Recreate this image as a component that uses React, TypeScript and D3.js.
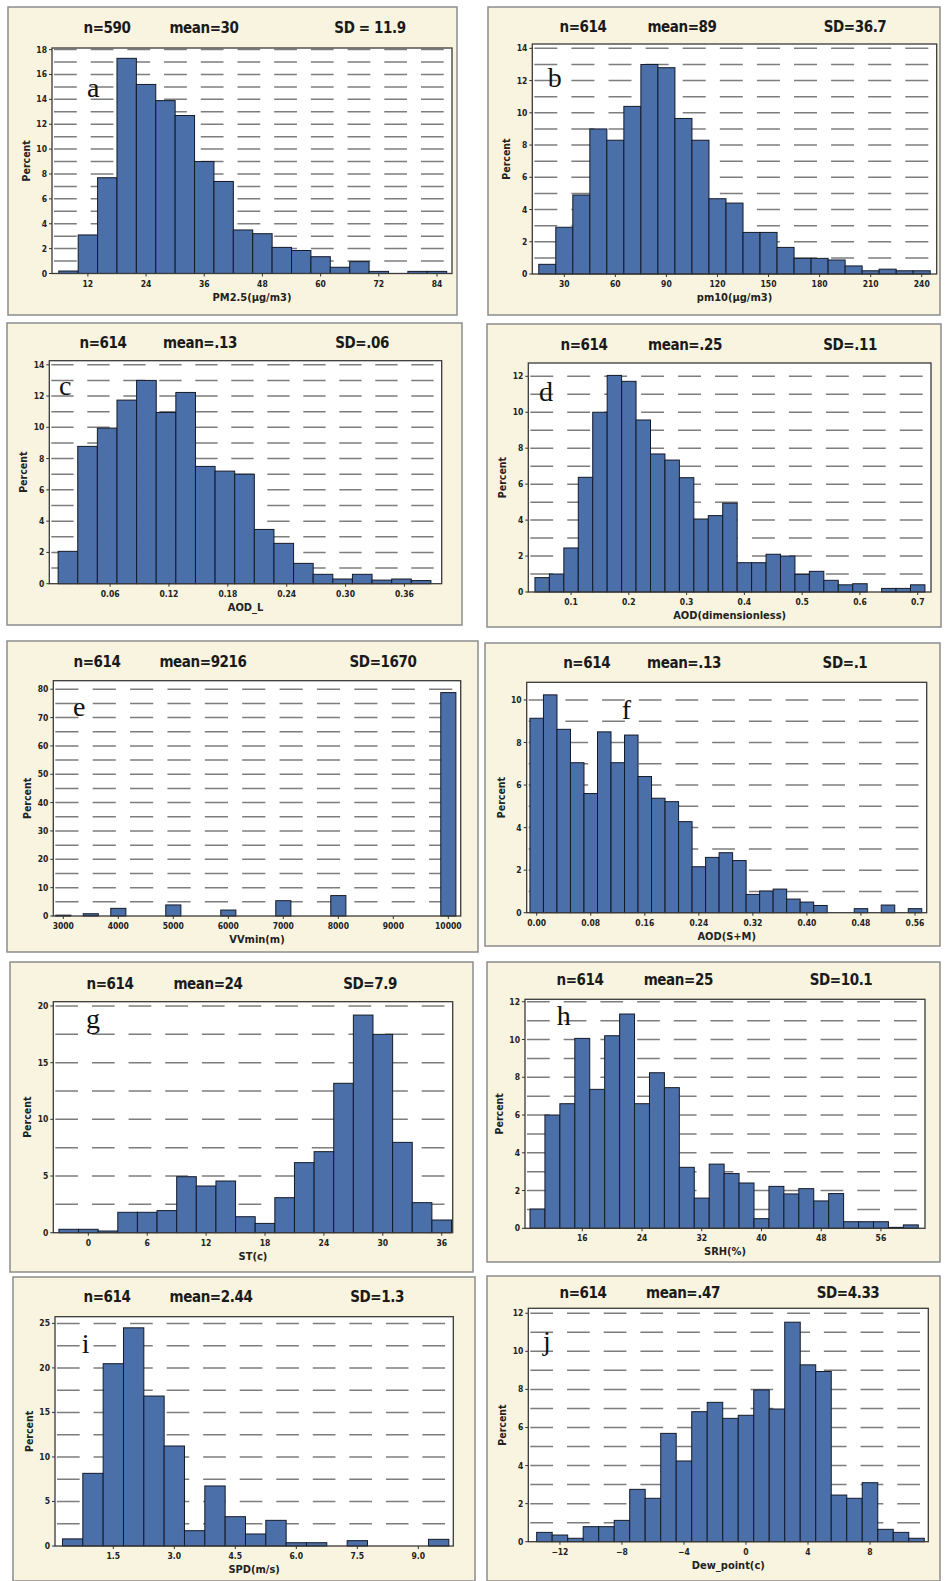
import React from "react";
import * as d3 from "d3";

// ---------- data: percent per histogram bin ----------
const pm25Values = [0.2, 3.1, 7.7, 17.3, 15.2, 13.9, 12.7, 9.0, 7.4, 3.5, 3.2, 2.1, 1.85, 1.35, 0.5, 0.95, 0.17, 0, 0.17, 0.17];
const pm25XTicks = [12, 24, 36, 48, 60, 72, 84];
const pm25YTicks = [0, 2, 4, 6, 8, 10, 12, 14, 16, 18];

const pm10Values = [0.6, 2.9, 4.9, 9.0, 8.3, 10.4, 13.0, 12.8, 9.65, 8.3, 4.67, 4.4, 2.58, 2.58, 1.65, 0.97, 0.97, 0.87, 0.5, 0.2, 0.3, 0.2, 0.2];
const pm10XTicks = [30, 60, 90, 120, 150, 180, 210, 240];
const pm10YTicks = [0, 2, 4, 6, 8, 10, 12, 14];

const aodLValues = [2.07, 8.78, 9.95, 11.74, 13.0, 10.95, 12.23, 7.5, 7.2, 7.0, 3.47, 2.58, 1.3, 0.6, 0.3, 0.6, 0.23, 0.3, 0.2];
const aodLXTicks = [0.06, 0.12, 0.18, 0.24, 0.3, 0.36];
const aodLYTicks = [0, 2, 4, 6, 8, 10, 12, 14];

const aodValues = [0.8, 1.0, 2.45, 6.38, 10.0, 12.05, 11.72, 9.57, 7.68, 7.34, 6.36, 4.06, 4.25, 4.94, 1.63, 1.63, 2.1, 2.0, 0.98, 1.15, 0.65, 0.4, 0.46, 0, 0.2, 0.2, 0.4];
const aodXTicks = [0.1, 0.2, 0.3, 0.4, 0.5, 0.6, 0.7];
const aodYTicks = [0, 2, 4, 6, 8, 10, 12];

const vvCenters = [3000, 3500, 4000, 5000, 6000, 7000, 8000, 10000];
const vvValues = [0.3, 0.8, 2.7, 3.9, 2.1, 5.4, 7.2, 78.8];
const vvXTicks = [3000, 4000, 5000, 6000, 7000, 8000, 9000, 10000];
const vvYTicks = [0, 10, 20, 30, 40, 50, 60, 70, 80];

const aodSMValues = [9.14, 10.24, 8.62, 7.05, 5.6, 8.5, 7.05, 8.35, 6.4, 5.38, 5.22, 4.28, 2.16, 2.6, 2.82, 2.45, 0.86, 1.02, 1.11, 0.64, 0.5, 0.34, 0, 0, 0.19, 0, 0.36, 0, 0.19];
const aodSMXTicks = [0, 0.08, 0.16, 0.24, 0.32, 0.4, 0.48, 0.56];
const aodSMYTicks = [0, 2, 4, 6, 8, 10];

const stValues = [0.3, 0.3, 0.15, 1.8, 1.8, 1.95, 4.94, 4.12, 4.56, 1.41, 0.82, 3.09, 6.18, 7.15, 13.18, 19.2, 17.5, 7.97, 2.65, 1.12];
const stXTicks = [0, 6, 12, 18, 24, 30, 36];
const stYTicks = [0, 5, 10, 15, 20];

const srhValues = [1.02, 6.0, 6.6, 10.06, 7.36, 10.2, 11.35, 6.6, 8.24, 7.45, 3.23, 1.6, 3.4, 2.9, 2.4, 0.51, 2.22, 1.82, 2.1, 1.45, 1.84, 0.35, 0.35, 0.35, 0.05, 0.18];
const srhXTicks = [16, 24, 32, 40, 48, 56];
const srhYTicks = [0, 2, 4, 6, 8, 10, 12];

const spdValues = [0.8, 8.16, 20.47, 24.5, 16.84, 11.23, 1.72, 6.74, 3.29, 1.35, 2.88, 0.37, 0.37, 0, 0.6, 0, 0, 0, 0.75];
const spdXTicks = [1.5, 3.0, 4.5, 6.0, 7.5, 9.0];
const spdYTicks = [0, 5, 10, 15, 20, 25];

const dewValues = [0.49, 0.35, 0.18, 0.79, 0.79, 1.12, 2.75, 2.28, 5.69, 4.24, 6.83, 7.32, 6.48, 6.64, 7.97, 6.97, 11.53, 9.29, 8.94, 2.45, 2.28, 3.1, 0.65, 0.49, 0.18];
const dewXTicks = [-12, -8, -4, 0, 4, 8];
const dewYTicks = [0, 2, 4, 6, 8, 10, 12];

// summary text over each panel
const statsA = ["n=590", "mean=30", "SD = 11.9"];
const statsB = ["n=614", "mean=89", "SD=36.7"];
const statsC = ["n=614", "mean=.13", "SD=.06"];
const statsD = ["n=614", "mean=.25", "SD=.11"];
const statsE = ["n=614", "mean=9216", "SD=1670"];
const statsF = ["n=614", "mean=.13", "SD=.1"];
const statsG = ["n=614", "mean=24", "SD=7.9"];
const statsH = ["n=614", "mean=25", "SD=10.1"];
const statsI = ["n=614", "mean=2.44", "SD=1.3"];
const statsJ = ["n=614", "mean=.47", "SD=4.33"];

// ---------- helpers ----------
const equalBins = (start: number, width: number, n: number) =>
  d3.range(n).map(i => [start + i * width, start + (i + 1) * width]);
const centeredBins = (centers: number[], width: number) =>
  centers.map(c => [c - width / 2, c + width / 2]);

const FONT = "'Liberation Sans Narrow', 'DejaVu Sans Condensed', 'Arial Narrow', sans-serif";
const SERIF = "'Liberation Serif', 'DejaVu Serif', serif";
const BAR = "#4b6fa8";
const CREAM = "#f9f4df";

// layout of each panel: frame box, plot box [l, t, r, b], axis domains
const panels = [
  { id: "a", frame: [8, 7, 457, 315], plot: [52, 48, 452, 273.5], xDomain: [4.6, 87.1], yTop: 18.13, grid: 1,
    bins: equalBins(6, 4, pm25Values.length), values: pm25Values, xTicks: pm25XTicks, yTicks: pm25YTicks, fmt: d3.format("d"),
    stats: statsA, statsX: [107, 204, 370], statsY: 33, letter: [87, 97], xLabel: "PM2.5(µg/m3)" },
  { id: "b", frame: [488, 7, 940, 315], plot: [532.3, 44, 936.7, 274], xDomain: [11.2, 248.8], yTop: 14.27, grid: 1,
    bins: equalBins(15, 10, pm10Values.length), values: pm10Values, xTicks: pm10XTicks, yTicks: pm10YTicks, fmt: d3.format("d"),
    stats: statsB, statsX: [583, 682, 855], statsY: 32, letter: [547.7, 87], xLabel: "pm10(µg/m3)" },
  { id: "c", frame: [7, 323, 462, 625], plot: [49.3, 360.7, 441.7, 583.7], xDomain: [-0.002, 0.398], yTop: 14.26, grid: 1,
    bins: equalBins(0.007, 0.02, aodLValues.length), values: aodLValues, xTicks: aodLXTicks, yTicks: aodLYTicks, fmt: d3.format(".2f"),
    stats: statsC, statsX: [103, 200, 362], statsY: 348, letter: [59, 395], xLabel: "AOD_L" },
  { id: "d", frame: [487, 324, 941, 627], plot: [528.3, 363, 931, 592], xDomain: [0.026, 0.723], yTop: 12.74, grid: 1,
    bins: equalBins(0.0375, 0.025, aodValues.length), values: aodValues, xTicks: aodXTicks, yTicks: aodYTicks, fmt: d3.format(".1f"),
    stats: statsD, statsX: [584, 685, 850], statsY: 350, letter: [539, 400.7], xLabel: "AOD(dimensionless)" },
  { id: "e", frame: [7, 641, 478, 952], plot: [53.3, 680.7, 460.7, 916], xDomain: [2818, 10225], yTop: 83, grid: 5,
    bins: centeredBins(vvCenters, 275), values: vvValues, xTicks: vvXTicks, yTicks: vvYTicks, fmt: d3.format("d"),
    stats: statsE, statsX: [97, 203, 383], statsY: 667, letter: [73, 716], xLabel: "VVmin(m)" },
  { id: "f", frame: [485, 643, 940, 946], plot: [526.7, 682.3, 926.7, 912.7], xDomain: [-0.0148, 0.5773], yTop: 10.83, grid: 1,
    bins: equalBins(-0.01, 0.02, aodSMValues.length), values: aodSMValues, xTicks: aodSMXTicks, yTicks: aodSMYTicks, fmt: d3.format(".2f"),
    stats: statsF, statsX: [586.7, 684, 845], statsY: 668, letter: [621.7, 719], xLabel: "AOD(S+M)" },
  { id: "g", frame: [10, 962, 473, 1272], plot: [53.3, 1001.7, 452.7, 1232.7], xDomain: [-3.57, 37.12], yTop: 20.38, grid: 2.5,
    bins: equalBins(-3, 2, stValues.length), values: stValues, xTicks: stXTicks, yTicks: stYTicks, fmt: d3.format("d"),
    stats: statsG, statsX: [110, 208, 370], statsY: 989, letter: [86, 1028], xLabel: "ST(c)" },
  { id: "h", frame: [487, 962, 940, 1262], plot: [525, 999.3, 925, 1228.3], xDomain: [8.33, 61.9], yTop: 12.13, grid: 1,
    bins: equalBins(9, 2, srhValues.length), values: srhValues, xTicks: srhXTicks, yTicks: srhYTicks, fmt: d3.format("d"),
    stats: statsH, statsX: [580, 678.3, 841], statsY: 985, letter: [556.7, 1025], xLabel: "SRH(%)" },
  { id: "i", frame: [13, 1277, 475, 1581], plot: [55, 1316.7, 453.3, 1546], xDomain: [0.066, 9.86], yTop: 25.75, grid: 2.5,
    bins: equalBins(0.25, 0.5, spdValues.length), values: spdValues, xTicks: spdXTicks, yTicks: spdYTicks, fmt: d3.format(".1f"),
    stats: statsI, statsX: [107, 211, 377], statsY: 1302, letter: [81.7, 1353], xLabel: "SPD(m/s)" },
  { id: "j", frame: [487, 1276, 940, 1581], plot: [528.3, 1308.3, 928.3, 1541.7], xDomain: [-14.04, 11.76], yTop: 12.26, grid: 1,
    bins: equalBins(-13.5, 1, dewValues.length), values: dewValues, xTicks: dewXTicks, yTicks: dewYTicks, fmt: d3.format("d"),
    stats: statsJ, statsX: [583, 683, 848], statsY: 1298, letter: [543, 1350], xLabel: "Dew_point(c)" },
];

const Panel = ({ p }: { p: any }) => {
  const [fl, ft, fr, fb] = p.frame;
  const [pl, pt, pr, pb] = p.plot;
  const x = d3.scaleLinear().domain(p.xDomain).range([pl, pr]);
  const y = d3.scaleLinear().domain([0, p.yTop]).range([pb, pt]);
  const gridVals = d3.range(p.grid, p.yTop + 1e-6, p.grid);
  const period = (pr - pl) / 10.9;
  const dash = period * 0.62;

  return (
    <g>
      <rect x={fl} y={ft} width={fr - fl} height={fb - ft} fill={CREAM} stroke="#8c8c8c" strokeWidth={1.5} />
      <rect x={pl} y={pt} width={pr - pl} height={pb - pt} fill="#fff" />
      {gridVals.map(v => (
        <line key={v} x1={pl + 2} x2={pr - 2} y1={y(v)} y2={y(v)}
          stroke="#7d7d7d" strokeWidth={1.5} strokeDasharray={`${dash} ${period - dash}`} />
      ))}
      {p.values.map((v: number, i: number) =>
        v > 0 ? (
          <rect key={i} x={x(p.bins[i][0])} y={y(v)} width={x(p.bins[i][1]) - x(p.bins[i][0])}
            height={y(0) - y(v)} fill={BAR} stroke="#141a28" strokeWidth={1} />
        ) : null
      )}
      <rect x={pl} y={pt} width={pr - pl} height={pb - pt} fill="none" stroke="#3a3a3a" strokeWidth={1.3} />
      {p.yTicks.map((t: number) => (
        <g key={t}>
          <line x1={pl - 3} x2={pl} y1={y(t)} y2={y(t)} stroke="#333" strokeWidth={1} />
          <text x={pl - 5} y={y(t) + 3} textAnchor="end" fontSize={8.5} fontWeight="bold" fontFamily={FONT} fill="#222">
            {t}
          </text>
        </g>
      ))}
      {p.xTicks.map((t: number) => (
        <g key={t}>
          <line x1={x(t)} x2={x(t)} y1={pb} y2={pb + 3} stroke="#333" strokeWidth={1} />
          <text x={x(t)} y={pb + 13} textAnchor="middle" fontSize={8.5} fontWeight="bold" fontFamily={FONT} fill="#222">
            {p.fmt(t)}
          </text>
        </g>
      ))}
      <text transform={`translate(${pl - 22},${(pt + pb) / 2}) rotate(-90)`} textAnchor="middle"
        fontSize={10.5} fontWeight="bold" fontFamily={FONT} fill="#222">
        Percent
      </text>
      <text x={(pl + pr) / 2} y={pb + 27} textAnchor="middle" fontSize={11} fontWeight="bold" fontFamily={FONT} fill="#222">
        {p.xLabel}
      </text>
      {p.stats.map((s: string, i: number) => (
        <text key={i} x={p.statsX[i]} y={p.statsY} textAnchor="middle" fontSize={15} fontWeight="bold"
          fontFamily={FONT} fill="#1a1a1a" letterSpacing={-0.4}>
          {s}
        </text>
      ))}
      <text x={p.letter[0]} y={p.letter[1]} fontSize={28} fontFamily={SERIF} fill="#111">
        {p.id}
      </text>
    </g>
  );
};

const App = () => (
  <svg width={947} height={1581} style={{ position: "absolute", left: 0, top: 0, background: "#fff" }}>
    {panels.map(p => (
      <Panel key={p.id} p={p} />
    ))}
  </svg>
);

export default App;
